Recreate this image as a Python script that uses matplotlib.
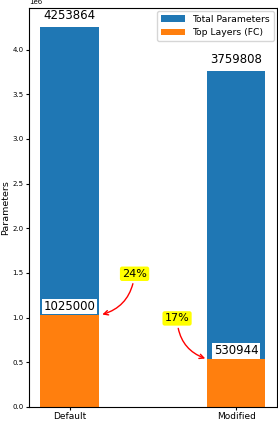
import matplotlib
matplotlib.use("Agg")
from matplotlib import pyplot as plt

models = ["Default", "Modified"]
total_params = [4253864, 3759808]
top_params = [1025000, 530944]
percent_labels = ["24%", "17%"]

fig = plt.figure(figsize=(2.78, 4.22), dpi=100)
ax = fig.add_axes([0.105, 0.036, 0.89, 0.945])

x = range(len(models))
width = 0.35
ax.bar(x, total_params, width, color="#1f77b4", label="Total Parameters")
ax.bar(x, top_params, width, color="#ff7f0e", label="Top Layers (FC)")

for i in x:
    ax.text(i, total_params[i] + 60000, str(total_params[i]), ha="center",
            va="bottom", fontsize=8.5)
    ax.text(i, top_params[i] + 25000, str(top_params[i]), ha="center",
            va="bottom", fontsize=8.5,
            bbox=dict(facecolor="white", edgecolor="none", pad=1))

# percentage callouts
ax.annotate(percent_labels[0], xy=(0.18, top_params[0]), xytext=(0.39, 1.49e6),
            ha="center", va="center", fontsize=8,
            bbox=dict(boxstyle="round,pad=0.2", facecolor="yellow", edgecolor="none"),
            arrowprops=dict(arrowstyle="->", color="red", lw=1,
                            connectionstyle="arc3,rad=-0.35"))
ax.annotate(percent_labels[1], xy=(0.83, top_params[1]), xytext=(0.645, 0.99e6),
            ha="center", va="center", fontsize=8,
            bbox=dict(boxstyle="round,pad=0.2", facecolor="yellow", edgecolor="none"),
            arrowprops=dict(arrowstyle="->", color="red", lw=1,
                            connectionstyle="arc3,rad=0.35"))

ax.set_xticks(list(x))
ax.set_xticklabels(models, fontsize=6.5)
ax.tick_params(axis="y", labelsize=5, length=2.5, pad=1.5)
ax.tick_params(axis="x", length=2.5, pad=1.5)
ax.yaxis.get_offset_text().set_fontsize(5)
ax.set_ylabel("Parameters", fontsize=6.8)
ax.yaxis.set_label_coords(-0.078, 0.5)
ax.legend(loc="upper right", fontsize=6.7, handlelength=2.6,
          borderaxespad=0.3)

fig.savefig("out.png", dpi=100)
